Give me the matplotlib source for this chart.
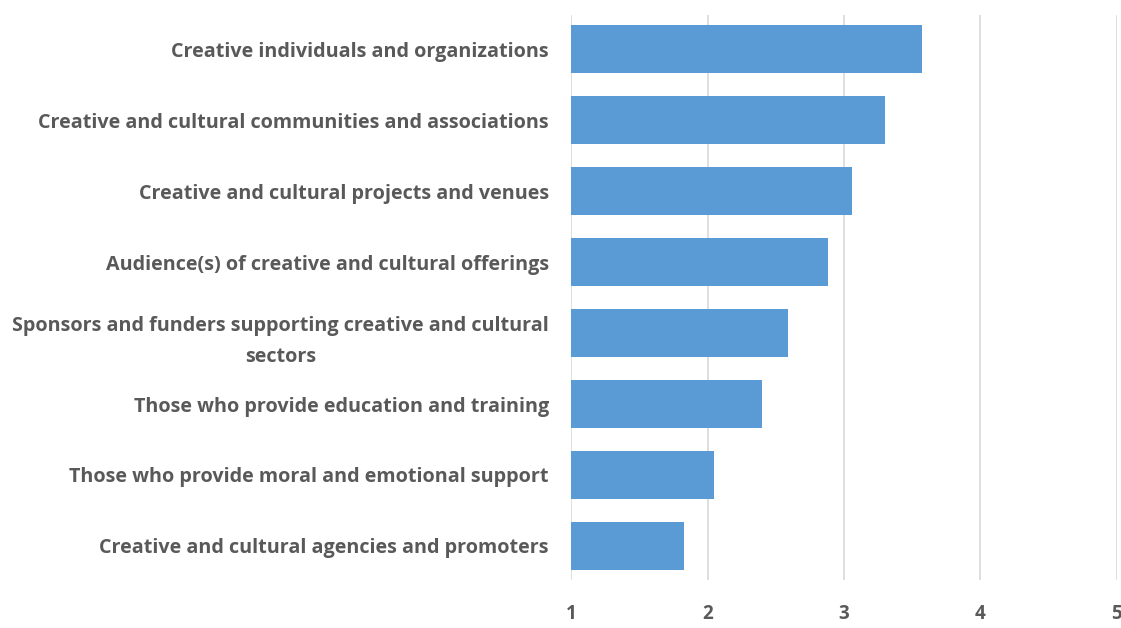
import matplotlib
matplotlib.use("Agg")
import matplotlib.pyplot as plt

plt.rcParams["font.family"] = ["Open Sans", "DejaVu Sans"]

CATEGORIES = [
    "Creative individuals and organizations",
    "Creative and cultural communities and associations",
    "Creative and cultural projects and venues",
    "Audience(s) of creative and cultural offerings",
    "Sponsors and funders supporting creative and cultural\nsectors",
    "Those who provide education and training",
    "Those who provide moral and emotional support",
    "Creative and cultural agencies and promoters",
]
SCORES = [3.57, 3.30, 3.06, 2.88, 2.59, 2.40, 2.05, 1.83]
X_TICKS = [1, 2, 3, 4, 5]

BAR_COLOR = "#5b9bd5"
TEXT_COLOR = "#595959"
GRID_COLOR = "#d9d9d9"


def main():
    fig = plt.figure(figsize=(11.21, 6.28), dpi=100)
    ax = fig.add_axes([0.5094, 0.0764, 0.4870, 0.8996])

    ypos = list(range(len(CATEGORIES)))
    base = X_TICKS[0]
    ax.barh(ypos, [s - base for s in SCORES], left=base, height=0.68,
            color=BAR_COLOR, zorder=2)

    ax.set_xlim(X_TICKS[0], X_TICKS[-1])
    ax.set_ylim(len(CATEGORIES) - 0.52, -0.48)
    ax.set_xticks(X_TICKS)
    ax.set_xticklabels([str(t) for t in X_TICKS], fontsize=13.5,
                       fontweight="bold", color=TEXT_COLOR)
    ax.set_yticks(ypos)
    ax.set_yticklabels(CATEGORIES, fontsize=14.2, fontweight="bold",
                       color=TEXT_COLOR, multialignment="center",
                       linespacing=1.75)

    ax.tick_params(axis="both", length=0)
    ax.tick_params(axis="y", pad=16)
    ax.tick_params(axis="x", pad=17)
    ax.xaxis.grid(True, color=GRID_COLOR, linewidth=1.2, zorder=0)
    ax.set_axisbelow(True)
    for spine in ax.spines.values():
        spine.set_visible(False)

    fig.savefig("out.png", dpi=100, facecolor="white")
    plt.close(fig)


if __name__ == "__main__":
    main()
